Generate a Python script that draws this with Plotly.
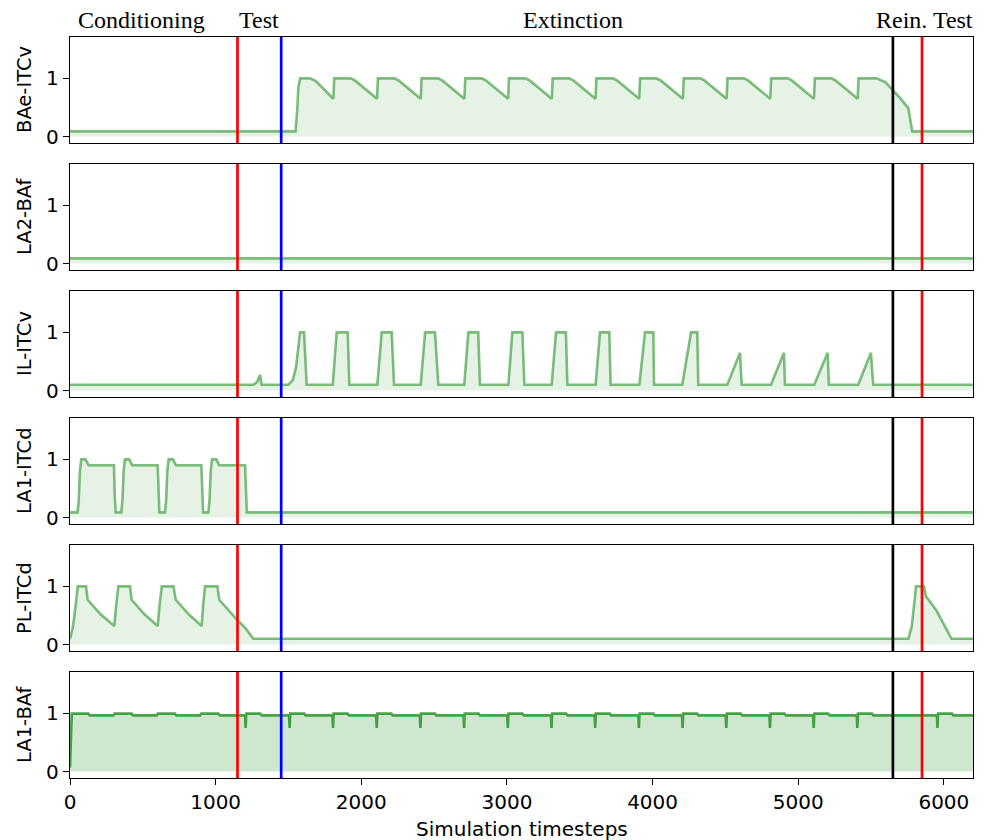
import plotly.graph_objects as go
from plotly.subplots import make_subplots

# ---------------- data ----------------
panel_names = ["BAe-ITCv", "LA2-BAf", "IL-ITCv", "LA1-ITCd", "PL-ITCd", "LA1-BAf"]
phase_labels = ["Conditioning", "Test", "Extinction", "Rein. Test"]
phase_label_x = [40, 1150, 3095, 5517]
event_x = [1150, 1450, 5650, 5850]
event_colors = ["red", "blue", "black", "red"]
x_ticks = [0, 1000, 2000, 3000, 4000, 5000, 6000]
x_max = 6200

# BAe-ITCv
bae_head_x = [0, 1548, 1560, 1568, 1580, 1650, 1690, 1750, 1806]
bae_head_y = [0.09, 0.09, 0.45, 0.85, 1.0, 1.0, 0.95, 0.8, 0.65]
bae_onsets = [1808, 2108, 2408, 2708, 3008, 3308, 3608, 3908, 4208, 4508, 4808, 5108]
bae_cycle_dx = [0, 6, 120, 150, 200, 250, 298]
bae_cycle_y = [0.65, 1.0, 1.0, 0.96, 0.86, 0.75, 0.65]
bae_tail_x = [5408, 5414, 5538, 5600, 5650, 5700, 5756, 5783, 6200]
bae_tail_y = [0.65, 1.0, 1.0, 0.93, 0.80, 0.66, 0.49, 0.09, 0.09]

# LA2-BAf
la2_x = [0, 6200]
la2_y = [0.09, 0.09]

# IL-ITCv
il_pre_x = [0, 1259, 1285, 1298, 1305, 1316, 1499, 1530, 1552, 1568, 1579, 1607, 1625]
il_pre_y = [0.1, 0.1, 0.15, 0.23, 0.27, 0.1, 0.1, 0.18, 0.4, 0.75, 1.0, 1.0, 0.1]
il_start = [1804, 2110, 2408, 2707, 3010, 3307, 3609, 3909, 4204, 4513, 4813, 5110, 5412]
il_top_start = [1831, 2140, 2438, 2735, 3037, 3337, 3639, 3948, 4264, 4600, 4902, 5202, 5499]
il_top_end = [1907, 2209, 2506, 2803, 3106, 3405, 3703, 4005, 4307, 4600, 4902, 5202, 5499]
il_end = [1918, 2225, 2529, 2815, 3120, 3415, 3712, 4010, 4314, 4612, 4909, 5211, 5515]
il_peak = [1.0, 1.0, 1.0, 1.0, 1.0, 1.0, 1.0, 1.0, 1.0, 0.65, 0.65, 0.65, 0.65]
il_base = 0.1

# LA1-ITCd
la1_on = [52, 352, 652, 950]
la1_rise_dx = [0, 8, 16, 25, 55, 75]
la1_rise_y = [0.09, 0.3, 0.8, 1.0, 1.0, 0.9]
la1_off = [302, 602, 902, 1202]
la1_drop_dx = [0, 5, 12]
la1_drop_y = [0.9, 0.4, 0.09]
la1_base = 0.09

# PL-ITCd
pl_x = [0, 20, 40, 53, 110, 121, 210, 304, 318, 332, 412, 423, 512, 602, 616, 630,
        710, 726, 815, 904, 915, 927, 1012, 1025, 1149, 1202, 1259,
        5756, 5780, 5798, 5809, 5863, 5877, 5950, 6053, 6200]
pl_y = [0.1, 0.3, 0.7, 1.0, 1.0, 0.77, 0.52, 0.32, 0.7, 1.0, 1.0, 0.77, 0.52, 0.32, 0.7, 1.0,
        1.0, 0.77, 0.52, 0.32, 0.7, 1.0, 1.0, 0.77, 0.42, 0.29, 0.1,
        0.1, 0.32, 0.75, 1.0, 1.0, 0.83, 0.58, 0.1, 0.1]

# LA1-BAf
labaf_head_x = [0, 12, 126, 136]
labaf_head_y = [0.07, 0.995, 0.995, 0.965]
labaf_bump_on = [298, 595, 893]
labaf_bump_off = [423, 721, 1019]
labaf_hi = 0.995
labaf_lo = 0.965
labaf_dips = [1206, 1508, 1806, 2106, 2406, 2706, 3006, 3306, 3606, 3906,
              4206, 4506, 4806, 5106, 5406, 5956]
labaf_dip_dx = [-4, 0, 4, 100, 110]
labaf_dip_y = [0.965, 0.75, 0.995, 0.995, 0.965]

# ---------------- assemble series ----------------
def bae_series():
    xs, ys = list(bae_head_x), list(bae_head_y)
    for s in bae_onsets:
        xs += [s + d for d in bae_cycle_dx]
        ys += list(bae_cycle_y)
    xs += bae_tail_x
    ys += bae_tail_y
    return xs, ys


def il_series():
    xs, ys = list(il_pre_x), list(il_pre_y)
    for a, b, c, d, p in zip(il_start, il_top_start, il_top_end, il_end, il_peak):
        xs += [a, b, c, d]
        ys += [il_base, p, p, il_base]
    xs.append(x_max)
    ys.append(il_base)
    return xs, ys


def la1_series():
    xs, ys = [0], [la1_base]
    for on, off in zip(la1_on, la1_off):
        xs += [on + d for d in la1_rise_dx]
        ys += list(la1_rise_y)
        xs += [off + d for d in la1_drop_dx]
        ys += list(la1_drop_y)
    xs.append(x_max)
    ys.append(la1_base)
    return xs, ys


def labaf_series():
    xs, ys = list(labaf_head_x), list(labaf_head_y)
    for on, off in zip(labaf_bump_on, labaf_bump_off):
        xs += [on, on + 8, off, off + 10]
        ys += [labaf_lo, labaf_hi, labaf_hi, labaf_lo]
    for d0 in labaf_dips:
        xs += [d0 + d for d in labaf_dip_dx]
        ys += list(labaf_dip_y)
    xs.append(x_max)
    ys.append(labaf_lo)
    return xs, ys


series = [bae_series(), (la2_x, la2_y), il_series(), la1_series(), (pl_x, pl_y), labaf_series()]

# ---------------- figure ----------------
# page body has an 8px margin, so the figure is 8px smaller on each axis
fig = make_subplots(rows=6, cols=1, shared_xaxes=True, vertical_spacing=21 / 741)

for i, (xs, ys) in enumerate(series):
    last = i == 5
    fig.add_trace(go.Scatter(
        x=xs, y=ys, mode="lines", fill="tozeroy",
        line=dict(color="rgba(0,128,0,0.7)" if last else "rgba(0,128,0,0.5)", width=2.6),
        fillcolor="rgba(0,128,0,0.19)" if last else "rgba(0,128,0,0.1)",
        showlegend=False, hoverinfo="skip"), row=i + 1, col=1)

tick_font = dict(size=20, color="black", family="DejaVu Sans")
for i in range(6):
    r = i + 1
    fig.update_yaxes(range=[-0.11, 1.71], tickvals=[0, 1], ticks="outside", ticklen=6,
                     tickwidth=1.2, tickcolor="black", showline=True, mirror=True,
                     linecolor="black", linewidth=1.3, showgrid=False, zeroline=False,
                     tickfont=tick_font, row=r, col=1)
    fig.update_xaxes(range=[0, x_max], showline=True, mirror=True, linecolor="black",
                     linewidth=1.3, showgrid=False, zeroline=False,
                     ticks="outside" if r == 6 else "", ticklen=6, tickwidth=1.2,
                     tickcolor="black", tickvals=x_ticks, showticklabels=(r == 6),
                     tickfont=tick_font, row=r, col=1)
    sfx = "" if r == 1 else str(r)
    for ex, ec in zip(event_x, event_colors):
        fig.add_shape(type="line", xref="x" + sfx, yref="y" + sfx + " domain",
                      x0=ex, x1=ex, y0=0, y1=1, line=dict(color=ec, width=2.7), layer="above")
    fig.add_annotation(text=panel_names[i], xref="paper", yref="y" + sfx + " domain",
                       x=0, y=0.5, xshift=-46, textangle=-90, showarrow=False,
                       xanchor="center", yanchor="middle",
                       font=dict(size=19.5, color="black", family="DejaVu Sans"))

for lbl, lx in zip(phase_labels, phase_label_x):
    fig.add_annotation(text=lbl, xref="x", yref="paper", x=lx, y=1, yshift=2,
                       xanchor="left", yanchor="bottom", showarrow=False,
                       font=dict(size=24, color="black", family="Liberation Serif"))

fig.add_annotation(text="Simulation timesteps", xref="paper", yref="paper", x=0.5, y=0,
                   yshift=-37, xanchor="center", yanchor="top", showarrow=False,
                   font=dict(size=20, color="black", family="DejaVu Sans"))

fig.update_layout(width=976, height=832, margin=dict(l=62, r=11, t=29, b=62),
                  plot_bgcolor="white", paper_bgcolor="white",
                  font=dict(family="DejaVu Sans", color="black"))

fig.write_html("out.html")
